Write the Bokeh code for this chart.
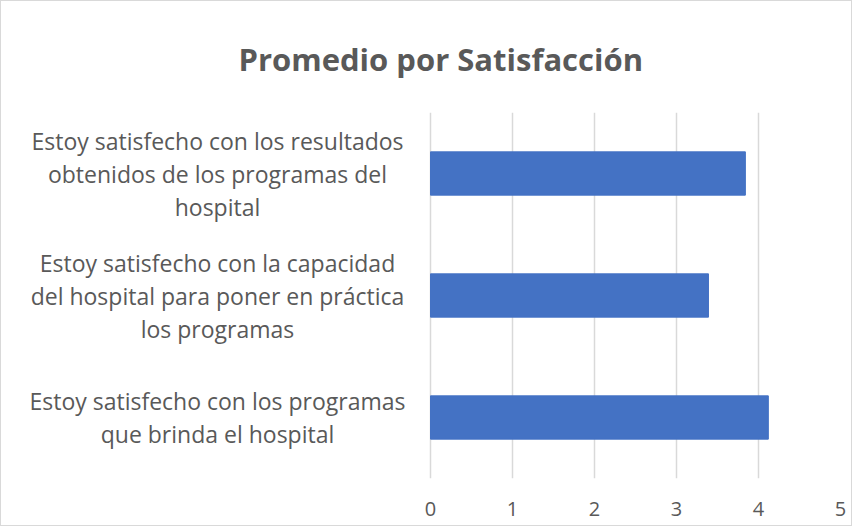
from bokeh.plotting import figure
from bokeh.models import FactorRange, Range1d, FixedTicker, ColumnDataSource, Title, LabelSet
from bokeh.core.properties import value
from bokeh.embed import file_html
from bokeh.resources import INLINE

title = "Promedio por Satisfacción"
categories = [
    "Estoy satisfecho con los resultados\nobtenidos de los programas del\nhospital",
    "Estoy satisfecho con la capacidad\ndel hospital para poner en práctica\nlos programas",
    "Estoy satisfecho con los programas\nque brinda el hospital",
]
values = [3.84, 3.39, 4.12]
x_ticks = [0, 1, 2, 3, 4, 5]

GRAY = "#595959"
FONT = "Open Sans"
LINE_PX = 33

# frame spans the label area too: 82 px per unit, value 0 sits 429 px from the left
p = figure(
    width=852, height=526,
    y_range=FactorRange(factors=list(reversed(categories))),
    x_range=Range1d(-429 / 82, 5),
    output_backend="svg", toolbar_location=None,
    min_border_left=0, min_border_right=13, min_border_top=111, min_border_bottom=49,
)
p.styles = {"border": "1px solid #d9d9d9"}

src = ColumnDataSource(dict(cat=categories, val=values))
p.hbar(y="cat", right="val", left=0, height=0.355, source=src,
       fill_color="#4472C4", line_color="#4472C4")

t = Title(text=title, align="left", offset=237, standoff=65,
          text_font=FONT, text_font_size="31px", text_font_style="bold",
          text_color=GRAY)
p.add_layout(t, "above")

p.xaxis.ticker = FixedTicker(ticks=x_ticks)
p.xaxis.axis_line_color = None
p.xaxis.major_tick_line_color = None
p.xaxis.minor_tick_line_color = None
p.xaxis.major_label_text_font = FONT
p.xaxis.major_label_text_font_size = "20px"
p.xaxis.major_label_text_color = GRAY
p.xaxis.major_label_standoff = 17

p.yaxis.visible = False
p.ygrid.grid_line_color = None
p.xgrid.ticker = FixedTicker(ticks=x_ticks)
p.xgrid.grid_line_color = "#d9d9d9"
p.xgrid.grid_line_width = 1.5
p.outline_line_color = None

# one label per wrapped line, so every line is centred on its own
line_cat, line_txt, line_off = [], [], []
for c in categories:
    parts = c.split("\n")
    n = len(parts)
    for i, s in enumerate(parts):
        line_cat.append(c)
        line_txt.append(s)
        line_off.append(((n - 1) / 2 - i) * LINE_PX)
lsrc = ColumnDataSource(dict(cat=line_cat, txt=line_txt, off=line_off))
labels = LabelSet(x=216, y="cat", y_offset="off", text="txt", source=lsrc, x_units="screen",
                  text_align="center", text_baseline="middle",
                  text_font=value(FONT), text_font_size="23px", text_color=GRAY)
p.add_layout(labels)

open("out.html", "w").write(file_html(p, INLINE))
